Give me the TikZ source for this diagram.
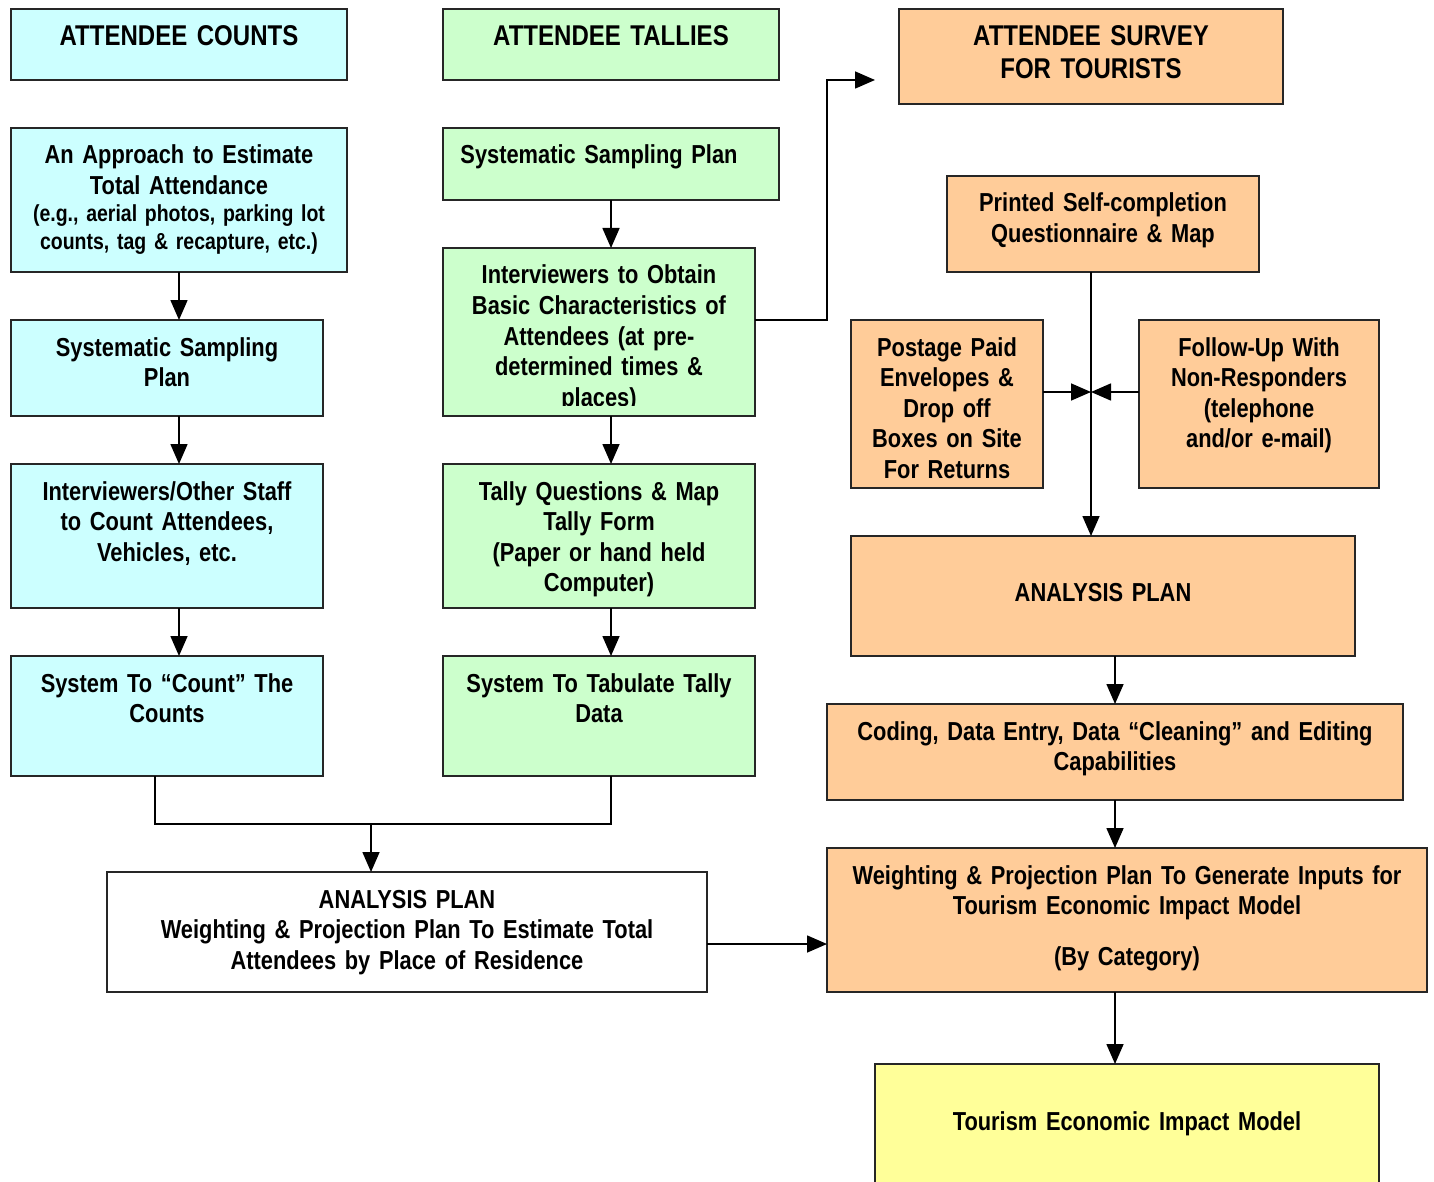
\documentclass[tikz,border=0pt]{standalone}
\usepackage{fontspec}
\setmainfont{Liberation Sans}[FakeStretch=0.84]
\usetikzlibrary{arrows.meta}
\definecolor{cbox}{HTML}{CCFFFF}
\definecolor{gbox}{HTML}{CCFFCC}
\definecolor{obox}{HTML}{FFCC99}
\definecolor{ybox}{HTML}{FFFF99}
\newcommand\mkbox[6]{\node[boxst,fill=#6,minimum width={(#4-#2)*0.5pt},minimum height={(#5-#3)*0.5pt}] (#1) at (#2,#3) {};}
\newcommand\tightsp{\spaceskip=0.17em plus 0.05em\relax}
\begin{document}
\begin{tikzpicture}[x=0.5pt,y=-0.5pt,
  boxst/.style={draw=black!85,line width=1pt,anchor=north west,inner sep=0pt,outer sep=0pt},
  txtbase/.style={text width=300pt,align=center,anchor=base,inner sep=0pt},
  txt/.style={txtbase,font=\fontsize{13}{15.3}\selectfont\bfseries\tightsp},
  hdr/.style={txtbase,font=\fontsize{14.3}{16.5}\selectfont\bfseries\tightsp},
  smalltxt/.style={txtbase,font=\fontsize{11.6}{13.8}\selectfont\bfseries\tightsp},
  conn/.style={line width=0.8pt,black},
  arr/.style={conn,-{Triangle[length=10pt,width=8.5pt]}}]
\useasboundingbox (0,0) rectangle (1434,1182);
\fill[white] (0,0) rectangle (1434,1182);

% boxes
\mkbox{b1}{11}{9}{347}{80}{cbox}
\mkbox{b2}{443}{9}{779}{80}{gbox}
\mkbox{b3}{899}{9}{1283}{104}{obox}
\mkbox{b4}{11}{128}{347}{272}{cbox}
\mkbox{b5}{443}{128}{779}{200}{gbox}
\mkbox{b6}{11}{320}{323}{416}{cbox}
\mkbox{b7}{443}{248}{755}{416}{gbox}
\mkbox{b8}{11}{464}{323}{608}{cbox}
\mkbox{b9}{443}{464}{755}{608}{gbox}
\mkbox{b10}{11}{656}{323}{776}{cbox}
\mkbox{b11}{443}{656}{755}{776}{gbox}
\mkbox{b12}{947}{176}{1259}{272}{obox}
\mkbox{b13}{851}{320}{1043}{488}{obox}
\mkbox{b14}{1139}{320}{1379}{488}{obox}
\mkbox{b15}{851}{536}{1355}{656}{obox}
\mkbox{b16}{827}{704}{1403}{800}{obox}
\mkbox{b17}{827}{848}{1427}{992}{obox}
\mkbox{b18}{107}{872}{707}{992}{white}
\mkbox{b19}{875}{1064}{1379}{1210}{ybox}

% texts
\node[hdr] (t1) at (179,46) {ATTENDEE COUNTS};
\node[hdr] (t2) at (611,46) {ATTENDEE TALLIES};
\node[hdr] (t3) at (1091,46) {ATTENDEE SURVEY\\FOR TOURISTS};
\node[txt] (t4) at (179,164) {An Approach to Estimate\\Total Attendance};
\node[smalltxt] (t4s) at (179,222) {(e.g., aerial photos, parking lot\\counts, tag \& recapture, etc.)};
\node[txt] (t5) at (599,164) {Systematic Sampling Plan};
\node[txt] (t6) at (167,356) {Systematic Sampling\\Plan};
\begin{scope}
\clip (443,248) rectangle (755,405);
\node[txt] (t7) at (599,284) {Interviewers to Obtain\\Basic Characteristics of\\Attendees (at pre-\\determined times \&\\places)};
\end{scope}
\node[txt] (t8) at (167,500) {Interviewers/Other Staff\\to Count Attendees,\\Vehicles, etc.};
\node[txt] (t9) at (599,500) {Tally Questions \& Map\\Tally Form\\(Paper or hand held\\Computer)};
\node[txt] (t10) at (167,692) {System To “Count” The\\Counts};
\node[txt] (t11) at (599,692) {System To Tabulate Tally\\Data};
\node[txt] (t12) at (1103,212) {Printed Self-completion\\Questionnaire \& Map};
\node[txt] (t13) at (947,356) {Postage Paid\\Envelopes \&\\Drop off\\Boxes on Site\\For Returns};
\node[txt] (t14) at (1259,356) {Follow-Up With\\Non-Responders\\(telephone\\and/or e-mail)};
\node[txt] (t15) at (1103,601) {ANALYSIS PLAN};
\node[txt] (t16) at (1115,740) {Coding, Data Entry, Data “Cleaning” and Editing\\Capabilities};
\node[txt] (t17) at (1127,884) {Weighting \& Projection Plan To Generate Inputs for\\Tourism Economic Impact Model\\[10pt](By Category)};
\node[txt] (t18) at (407,908) {ANALYSIS PLAN\\Weighting \& Projection Plan To Estimate Total\\Attendees by Place of Residence};
\node[txt] (t19) at (1127,1130) {Tourism Economic Impact Model};

% connector helper coordinates
\coordinate (xl) at (179,0);
\coordinate (xg) at (611,0);
\coordinate (j1) at (155,824);
\coordinate (j2) at (371,824);
\coordinate (k0) at (755,320);
\coordinate (k1) at (827,320);
\coordinate (k2) at (827,80);
\coordinate (k3) at (875,80);
\coordinate (v) at (1091,392);
\coordinate (xo) at (1115,0);
\coordinate (h) at (0,944);

% connectors
\draw[arr] (b4.south) -- (b4.south |- b6.north);
\draw[arr] (xl |- b6.south) -- (xl |- b8.north);
\draw[arr] (xl |- b8.south) -- (xl |- b10.north);
\draw[arr] (b5.south) -- (b5.south |- b7.north);
\draw[arr] (xg |- b7.south) -- (xg |- b9.north);
\draw[arr] (xg |- b9.south) -- (xg |- b11.north);
\draw[conn] (j1 |- b10.south) -- (j1) -- (j1 -| xg) -- (xg |- b11.south);
\draw[arr] (j2) -- (j2 |- b18.north);
\draw[arr] (k0) -- (k1) -- (k2) -- (k3);
\draw[arr] (v |- b12.south) -- (v |- b15.north);
\draw[arr] (b13.east |- v) -- (v);
\draw[arr] (b14.west |- v) -- (v);
\draw[arr] (xo |- b15.south) -- (xo |- b16.north);
\draw[arr] (xo |- b16.south) -- (xo |- b17.north);
\draw[arr] (b18.east |- h) -- (b17.west |- h);
\draw[arr] (xo |- b17.south) -- (xo |- b19.north);
\end{tikzpicture}
\end{document}
